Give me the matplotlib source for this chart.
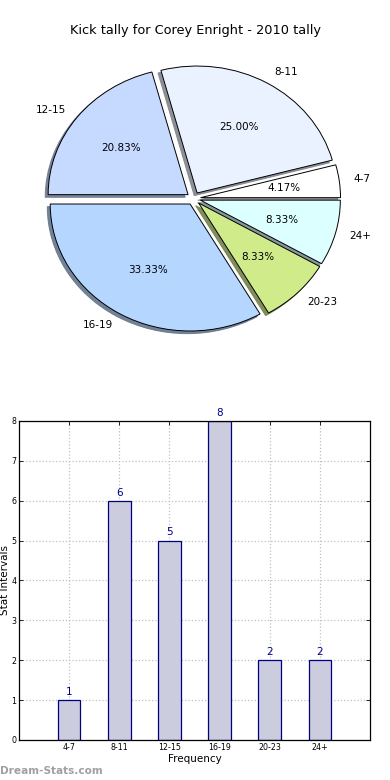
import matplotlib
matplotlib.use("Agg")
import matplotlib.pyplot as plt

categories = ["4-7", "8-11", "12-15", "16-19", "20-23", "24+"]
counts = [1, 6, 5, 8, 2, 2]
pie_colors = ["#ffffff", "#eaf2ff", "#c6d9ff", "#b5d6ff", "#d0ec8a", "#dcffff"]
title = "Kick tally for Corey Enright - 2010 tally"

fig = plt.figure(figsize=(3.9, 7.8), dpi=100)
fig.patch.set_facecolor("white")

# Pie chart
axp = fig.add_axes([0.048, 0.542, 0.897, 0.407])
wedges, texts, autotexts = axp.pie(
    counts, labels=categories, colors=pie_colors, explode=[0.05] * len(counts),
    autopct="%1.2f%%",
    shadow={"ox": -0.015, "oy": -0.015, "shade": 0.45, "alpha": 0.9},
    startangle=0,
    wedgeprops=dict(edgecolor="black", linewidth=0.7),
    textprops=dict(fontsize=7.5, color="black"))
axp.set_aspect("auto")
axp.set_xlim(-1.25, 1.25)
axp.set_ylim(-1.25, 1.25)
axp.set_axis_off()
fig.text(0.5, 0.961, title, ha="center", va="center", fontsize=9.3)

# Bar chart
axb = fig.add_axes([0.0487, 0.0513, 0.9, 0.409])
x = list(range(len(categories)))
bars = axb.bar(x, counts, width=0.45, color="#ccccdf", edgecolor="#000080", linewidth=0.9, zorder=2)
for xi, v in zip(x, counts):
    axb.text(xi, v + 0.08, str(v), ha="center", va="bottom", fontsize=7.5, color="#00008b")
axb.set_xlim(-1, 6)
axb.set_ylim(0, 8)
axb.set_xticks(x)
axb.set_xticklabels(categories, fontsize=5.7)
axb.set_yticks(range(0, 9))
axb.tick_params(axis="y", labelsize=5.7, pad=2)
axb.tick_params(axis="x", pad=2)
axb.tick_params(direction="in", top=True, right=True, length=3, width=0.6)
axb.grid(True, linestyle=":", color="#c0c0c0", linewidth=0.9, zorder=0)
axb.set_axisbelow(True)
axb.set_xlabel("Frequency", fontsize=7.5, labelpad=1.5)
axb.set_ylabel("Stat Intervals", fontsize=7.5, labelpad=1)
for s in axb.spines.values():
    s.set_linewidth(0.9)

fig.text(0.0, 0.0115, "Dream-Stats.com", ha="left", va="center", fontsize=7.6,
         color="#a0a0a0", fontweight="bold")

fig.savefig("out.png", dpi=100)
